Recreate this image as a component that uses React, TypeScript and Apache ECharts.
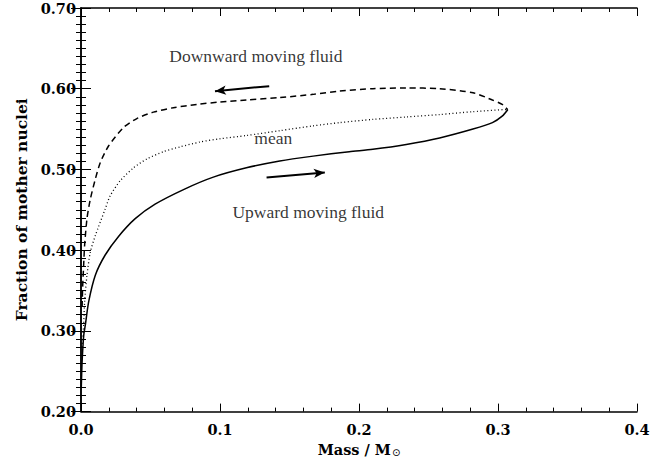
import React, { useEffect, useRef } from "react";
import * as echarts from "echarts";

// Upward moving fluid (solid)
const upX = [0.0002, 0.0007, 0.0012, 0.002, 0.0031, 0.0055, 0.0103, 0.0174, 0.027, 0.039, 0.0533, 0.0749, 0.0952, 0.119, 0.143, 0.167, 0.193, 0.21, 0.234, 0.258, 0.282, 0.296, 0.303, 0.307];
const upY = [0.23, 0.258, 0.275, 0.295, 0.307, 0.336, 0.369, 0.394, 0.417, 0.439, 0.457, 0.476, 0.4905, 0.502, 0.5105, 0.5165, 0.522, 0.525, 0.531, 0.539, 0.55, 0.558, 0.566, 0.574];

// Downward moving fluid (dashed)
const downX = [0.0008, 0.0012, 0.0019, 0.0026, 0.0043, 0.0067, 0.0103, 0.0139, 0.0198, 0.0306, 0.0402, 0.0521, 0.0665, 0.0833, 0.1, 0.119, 0.143, 0.167, 0.186, 0.21, 0.234, 0.258, 0.282, 0.296, 0.303, 0.307];
const downY = [0.33, 0.355, 0.381, 0.406, 0.439, 0.463, 0.488, 0.5086, 0.529, 0.552, 0.563, 0.571, 0.5765, 0.5806, 0.5835, 0.586, 0.589, 0.593, 0.597, 0.6, 0.601, 0.6, 0.595, 0.586, 0.5806, 0.574];

// Mean (dotted)
const meanX = [0.0008, 0.0019, 0.0026, 0.0043, 0.0067, 0.0103, 0.0174, 0.021, 0.0282, 0.0378, 0.0474, 0.0593, 0.0713, 0.0856, 0.1, 0.119, 0.143, 0.167, 0.186, 0.21, 0.234, 0.258, 0.282, 0.307];
const meanY = [0.28, 0.307, 0.336, 0.369, 0.3975, 0.418, 0.451, 0.4674, 0.486, 0.502, 0.513, 0.522, 0.528, 0.534, 0.538, 0.542, 0.548, 0.554, 0.558, 0.562, 0.565, 0.568, 0.5716, 0.5744];

// Annotations (data coordinates)
const labelTexts = ["Downward moving fluid", "mean", "Upward moving fluid"];
const labelX = [0.1258, 0.1383, 0.1635];
const labelY = [0.640, 0.5386, 0.4473];

const arrowDown = [[0.1354, 0.6032], [0.0964, 0.597]];
const arrowUp = [[0.1335, 0.490], [0.1754, 0.4963]];

const zip = (xs: number[], ys: number[]) => xs.map((x, i) => [x, ys[i]]);

const tickFont = "DejaVu Serif";
const textFont = "Liberation Serif";

export default function App() {
  const ref = useRef<HTMLDivElement>(null);
  useEffect(() => {
    if (!ref.current) return;
    const chart = echarts.init(ref.current, undefined, { renderer: "svg" });
    const axisLine = { show: true, lineStyle: { color: "#000", width: 1.5 } };
    const xCommon = {
      type: "value" as const,
      min: 0,
      max: 0.4,
      interval: 0.1,
      axisLine,
      splitLine: { show: false },
      axisTick: { show: true, inside: true, length: 8, lineStyle: { color: "#000", width: 1 } },
      minorTick: { show: true, splitNumber: 5, length: 4, lineStyle: { color: "#000", width: 1 } },
      minorSplitLine: { show: false },
    };
    const yCommon = {
      type: "value" as const,
      min: 0.2,
      max: 0.7,
      interval: 0.1,
      axisLine,
      splitLine: { show: false },
      axisTick: { show: true, inside: true, length: 10, lineStyle: { color: "#000", width: 1 } },
      minorTick: { show: true, splitNumber: 10, length: 5, lineStyle: { color: "#000", width: 1 } },
      minorSplitLine: { show: false },
    };
    const lineBase = {
      type: "line" as const,
      showSymbol: false,
      smooth: 0.25,
      xAxisIndex: 0,
      yAxisIndex: 0,
    };
    chart.setOption({
      animation: false,
      backgroundColor: "#fff",
      grid: { left: 81, right: 21, top: 8, bottom: 49, containLabel: false },
      xAxis: [
        {
          ...xCommon,
          position: "bottom",
          axisLabel: {
            show: true,
            margin: 10,
            color: "#000",
            fontFamily: tickFont,
            fontWeight: "bold",
            fontSize: 14.5,
            formatter: (v: number) => v.toFixed(1),
          },
          name: "{a|Mass / M}{b|⊙}",
          nameLocation: "middle",
          nameGap: 29,
          nameTextStyle: {
            rich: {
              a: { fontFamily: tickFont, fontWeight: "bold", fontSize: 14.5, color: "#000" },
              b: { fontFamily: "DejaVu Sans", fontSize: 10, color: "#000", padding: [6, 0, 0, 1] },
            },
          },
        },
        { ...xCommon, position: "top", axisLabel: { show: false } },
      ],
      yAxis: [
        {
          ...yCommon,
          position: "left",
          axisLabel: {
            show: true,
            margin: 5,
            color: "#000",
            fontFamily: tickFont,
            fontWeight: "bold",
            fontSize: 14.5,
            formatter: (v: number) => v.toFixed(2),
          },
          name: "Fraction of mother nuclei",
          nameLocation: "middle",
          nameGap: 51,
          nameRotate: 90,
          nameTextStyle: { fontFamily: tickFont, fontWeight: "bold", fontSize: 15.5, color: "#000" },
        },
        { ...yCommon, position: "right", axisLabel: { show: false } },
      ],
      series: [
        { ...lineBase, data: zip(upX, upY), lineStyle: { color: "#000", width: 1.5, type: "solid" } },
        { ...lineBase, data: zip(downX, downY), lineStyle: { color: "#000", width: 1.5, type: [6, 4] } },
        { ...lineBase, data: zip(meanX, meanY), lineStyle: { color: "#000", width: 1.3, type: [1, 2.5] } },
        {
          type: "scatter",
          data: labelTexts.map((t, i) => ({ value: [labelX[i], labelY[i]], name: t })),
          symbolSize: 0,
          label: {
            show: true,
            position: "inside",
            formatter: (p: any) => p.name,
            fontFamily: textFont,
            fontSize: 17.5,
            color: "#000",
          },
          markLine: {
            silent: true,
            symbol: ["none", "arrow"],
            symbolSize: [7, 11],
            label: { show: false },
            lineStyle: { color: "#000", width: 2, type: "solid" },
            data: [
              [{ coord: arrowDown[0] }, { coord: arrowDown[1] }],
              [{ coord: arrowUp[0] }, { coord: arrowUp[1] }],
            ],
          },
        },
      ],
    });
    return () => chart.dispose();
  }, []);
  return (
    <div style={{ position: "absolute", left: 0, top: 0, width: 658, height: 462 }}>
      <div ref={ref} style={{ width: 658, height: 462 }} />
    </div>
  );
}
